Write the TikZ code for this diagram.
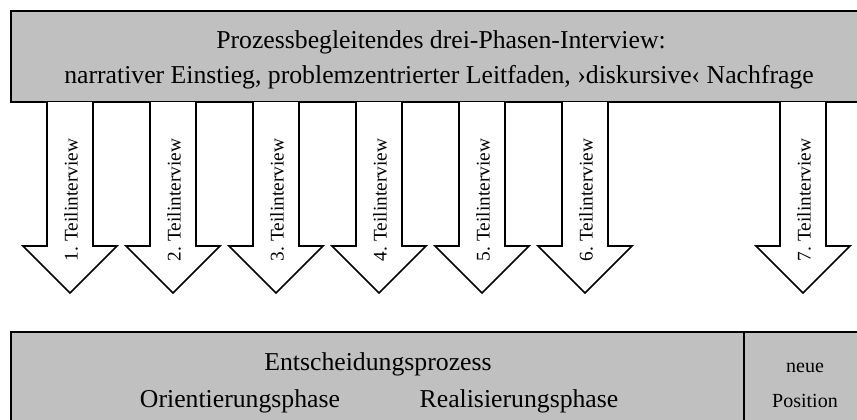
\documentclass[tikz,border=0pt]{standalone}
\usepackage{fontspec}
\setmainfont{Liberation Serif}
\frenchspacing
\definecolor{boxgray}{RGB}{192,192,192}
\tikzset{every picture/.style={line width=1.3pt}}
\tikzset{
  bigtext/.style={anchor=base,inner sep=0.75pt,font=\fontsize{19.3}{23}\selectfont},
  smalltext/.style={anchor=base,inner sep=0.75pt,font=\fontsize{15}{18}\selectfont},
  arrowtext/.style={rotate=90,inner sep=0.75pt,font=\fontsize{14.5}{17}\selectfont},
}
\begin{document}
\begin{tikzpicture}[x=0.75pt,y=0.75pt,yscale=-1,xscale=1]
\useasboundingbox (0,0) rectangle (857,419);
\clip (0,0) rectangle (857,419);
% top box
\draw [fill=boxgray] (11,11) rectangle (880,102);
\node [bigtext] (title1) at (441,48) {Prozessbegleitendes drei-Phasen-Interview:};
\node [bigtext] (title2) at (439,83) {narrativer Einstieg, problemzentrierter Leitfaden, ›diskursive‹ Nachfrage};
% arrows
\foreach \n/\cx in {1/70,2/173,3/276,4/379,5/482,6/585,7/803}
{
  \draw [fill=white,line join=miter] (\cx-23,102) -- (\cx-23,246) -- (\cx-47,246) -- (\cx,293) -- (\cx+47,246) -- (\cx+23,246) -- (\cx+23,102);
  \node [arrowtext] (teil\n) at (\cx+1,200) {\n.\ Teilinterview};
}
% bottom box
\draw [fill=boxgray] (11,332) rectangle (880,440);
\draw (744,332) -- (744,440);
\node [bigtext] (prozess) at (378,370) {Entscheidungsprozess};
\node [bigtext] (orient) at (240,407) {Orientierungsphase};
\node [bigtext] (real) at (519,407) {Realisierungsphase};
\node [smalltext] (neue) at (805,372) {neue};
\node [smalltext] (pos) at (805,407) {Position};
\end{tikzpicture}
\end{document}
